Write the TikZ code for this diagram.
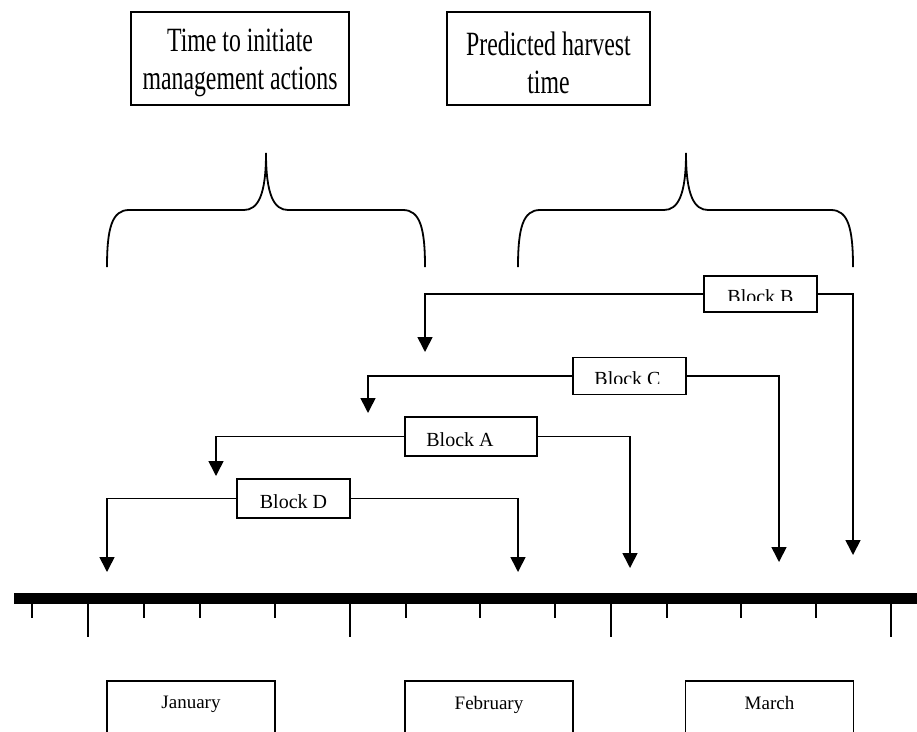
\documentclass[tikz,border=0pt]{standalone}
\usepackage{fontspec}
\setmainfont{Liberation Serif}
\newfontfamily\headfont[FakeStretch=0.7]{Liberation Serif}
\usetikzlibrary{arrows.meta,positioning}
\tikzset{
  headbox/.style={draw,line width=1.5pt,minimum height=93pt},
  headtext/.style={align=center,inner sep=0pt,font=\headfont\fontsize{34}{38}\selectfont},
  brace/.style={draw,line width=1.8pt},
  blockbox/.style={draw,line width=1.5pt,fill=white,inner sep=0pt},
  blocktext/.style={inner sep=0pt,font=\fontsize{20}{24}\selectfont},
  conn/.style={draw,line width=1.6pt,-{Triangle[width=15pt,length=15pt]}},
  timeline/.style={draw,line width=11pt},
  tick/.style={draw,line width=2pt},
  monthbox/.style={draw,line width=1.5pt,minimum width=168pt,minimum height=60pt,anchor=north},
  monthtext/.style={inner sep=0pt,font=\fontsize{19}{22}\selectfont},
}

\begin{document}
\begin{tikzpicture}[x=1pt,y=-1pt]
\useasboundingbox (0,0) rectangle (917,731);
% headings
\node[headbox,minimum width=218pt] (initbox) at (240,58.5) {};
\node[headtext] (inittext) at ([yshift=-4pt]initbox.center) {Time to initiate\\management actions};
\node[headbox,minimum width=203pt] (harvbox) at (548.5,58.5) {};
\node[headtext] (harvtext) at ([yshift=-4pt]harvbox.center) {Predicted harvest\\time};
% braces
\foreach \l/\m/\r in {107/266/425, 518/686/853}
{
  \draw[brace] (\l,267) .. controls (\l,228) and (\l+5,210) .. (\l+22,210) -- (\m-22,210)
    .. controls (\m-8,210) and (\m,195) .. (\m,153)
    .. controls (\m,195) and (\m+8,210) .. (\m+22,210) -- (\r-22,210)
    .. controls (\r-5,210) and (\r,228) .. (\r,267);
}
% blocks
\foreach \nm/\cx/\cy/\w/\h/\cut/\dx/\lx/\ly/\rx/\ry in {
  B/760.5/294/113pt/36pt/12pt/0pt/425/352/853/555,
  C/629.5/376/113pt/37pt/12pt/-2pt/368/413/779/562,
  A/471/436.5/132pt/39pt/0pt/-11pt/216/476/630/568,
  D/293.5/498.5/113pt/39pt/0pt/0pt/107/572/518/572}
{
  \node[blockbox,minimum width=\w,minimum height=\h] (blk\nm) at (\cx,\cy) {};
  \begin{scope}
    \clip ([yshift=\cut]blk\nm.south west) rectangle (blk\nm.north east);
    \node[blocktext] (lbl\nm) at ([xshift=\dx,yshift=-3pt]blk\nm.center) {Block \nm};
  \end{scope}
  \coordinate (end\nm l) at (\lx,\ly);
  \coordinate (end\nm r) at (\rx,\ry);
  \draw[conn] (blk\nm.west) -| (end\nm l);
  \draw[conn] (blk\nm.east) -| (end\nm r);
}
% time line
\draw[timeline] (14,598.5) -- (917,598.5);
\foreach \tx in {32,144,200,275,406,480,555,667,741,816}
  \draw[tick] (\tx,604) -- (\tx,618);
\foreach \tx in {88,350,611,891}
  \draw[tick] (\tx,604) -- (\tx,637);
% months
\foreach \nm/\cx in {January/191, February/489, March/769.5}
{
  \node[monthbox] (mon\nm) at (\cx,680) {};
  \node[monthtext,below=16pt of mon\nm.north] (txt\nm) {\nm};
}
\end{tikzpicture}
\end{document}
